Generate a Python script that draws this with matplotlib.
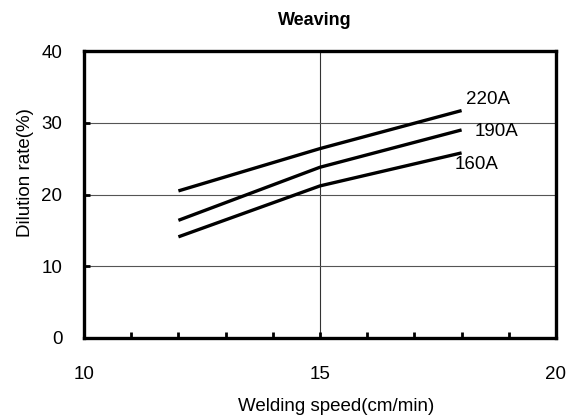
import numpy as np
import matplotlib
matplotlib.use("Agg")
import matplotlib.pyplot as plt

plt.rcParams['font.family'] = ['Liberation Sans', 'DejaVu Sans']

# welding speed (cm/min) and dilution rate (%) for each current
speed = [12, 15, 18]
rate_220 = [20.5, 26.4, 31.7]
rate_190 = [16.4, 23.8, 29.0]
rate_160 = [14.1, 21.2, 25.8]

series = [("220A", rate_220), ("190A", rate_190), ("160A", rate_160)]
# where the labels sit (left edge, vertical centre) in data units
label_pos = {"220A": (18.1, 33.3), "190A": (18.28, 28.85), "160A": (17.86, 24.25)}

fs = 13.5

fig = plt.figure(figsize=(5.69, 4.16), dpi=100)
ax = fig.add_axes([84 / 569, 1 - 338 / 416, 472 / 569, 287 / 416])

for name, vals in series:
    ax.plot(speed, vals, color="black", lw=2.4, solid_capstyle="butt")
    lx, ly = label_pos[name]
    ax.text(lx, ly, name, fontsize=fs, va="center", ha="left")

ax.set_xlim(10, 20)
ax.set_ylim(0, 40)
ax.set_xticks([10, 15, 20])
ax.set_xticks(np.arange(10, 21, 1), minor=True)
ax.set_yticks([0, 10, 20, 30, 40])

# grid only at the inner major ticks
ax.axvline(15, color="#333333", lw=0.8, zorder=0)
for gy in [10, 20, 30]:
    ax.axhline(gy, color="#555555", lw=0.8, zorder=0)

for s in ax.spines.values():
    s.set_linewidth(2.4)

ax.tick_params(axis="both", which="major", direction="in", length=4, width=2,
               labelsize=fs)
ax.tick_params(axis="x", which="minor", direction="in", length=4, width=2)
ax.tick_params(axis="y", which="major", pad=15.5)
ax.tick_params(axis="x", which="major", pad=20.5)

ax.set_xlabel("Welding speed(cm/min)", fontsize=fs)
ax.xaxis.label.set_va("center")
ax.xaxis.set_label_coords(0.534, -0.2404)
ax.set_ylabel("Dilution rate(%)", fontsize=fs)
ax.yaxis.label.set_va("center")
ax.yaxis.set_label_coords(-0.125, 0.578)
ax.set_title("Weaving", fontsize=13, fontweight="bold", x=0.488, y=1.108,
             va="center", pad=0)

fig.savefig("out.png", dpi=100)
